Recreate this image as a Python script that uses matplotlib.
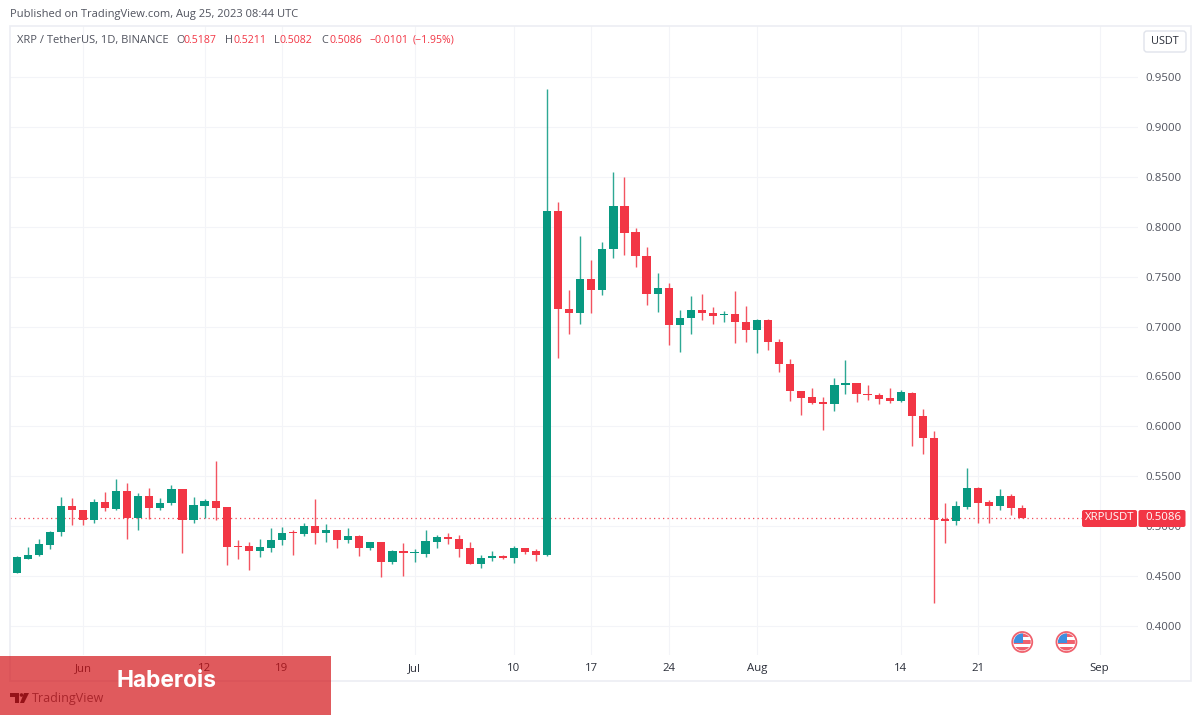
import matplotlib
matplotlib.use("Agg")
import matplotlib.pyplot as plt
import matplotlib.dates as mdates
from matplotlib.patches import Rectangle, FancyBboxPatch, Circle, Polygon
import pandas as pd
import numpy as np

dates = pd.date_range("2023-05-26", "2023-08-25", freq="D")

opens = [.4531,.4675,.4708,.4815,.4939,.5202,.5166,.5065,.5242,.5176,.5356,.5082,.5303,.5179,.5236,.5376,.5065,.5206,.5253,.5196,
         .4802,.4798,.4755,.4785,.4862,.4939,.4919,.5002,.4929,.4962,.4862,.4905,.4785,.4838,.4641,.4751,
         .4735,.4725,.4842,.4888,.4875,.4782,.4621,.4681,.4705,.4681,.4778,.4751,.4708,.8158,.7176,.7140,.7474,.7370,.7774,.8205,.7945,.7711,.7323,.7383,.7016,.7083,.7166,.7136,.7113,.7126,.7049,
         .6969,.7069,.6846,.6625,.6355,.6291,.6241,.6228,.6411,.6435,.6328,.6318,.6281,.6255,.6338,.6108,.5887,.5069,.5055,.5196,.5386,.5239,.5206,.5299,.5187]
highs = [.4698,.4788,.4868,.4955,.5289,.5279,.5166,.5269,.5339,.5473,.5436,.5329,.5383,.5279,.5413,.5376,.5289,.5276,.5657,.5196,
         .4862,.4838,.4872,.4979,.4995,.4962,.5029,.5273,.5019,.4962,.4979,.4912,.4845,.4845,.4765,.4828,
         .4768,.4962,.4912,.4935,.4912,.4838,.4711,.4748,.4711,.4798,.4782,.4768,.9377,.8252,.7367,.7908,.7667,.7844,.8546,.8496,.7991,.7801,.7534,.7440,.7166,.7307,.7330,.7193,.7160,.7360,.7203,
         .7073,.7073,.6872,.6672,.6358,.6388,.6298,.6482,.6665,.6438,.6411,.6331,.6388,.6365,.6345,.6174,.5954,.5229,.5253,.5580,.5389,.5263,.5369,.5319,.5211]
lows = [.4528,.4668,.4701,.4768,.4902,.5012,.5015,.5035,.5149,.5162,.4872,.4959,.5072,.5162,.5209,.4728,.5035,.5086,.5062,.4611,
        .4668,.4561,.4695,.4745,.4812,.4715,.4902,.4822,.4842,.4785,.4832,.4705,.4765,.4494,.4621,.4501,
        .4638,.4695,.4785,.4825,.4691,.4621,.4585,.4651,.4668,.4628,.4718,.4648,.4701,.6689,.6926,.7026,.7133,.7313,.7691,.7714,.7601,.7216,.7150,.6812,.6749,.6929,.7066,.7026,.7046,.6832,.6849,
        .6739,.6762,.6545,.6258,.6114,.6221,.5967,.6151,.6325,.6248,.6268,.6228,.6234,.6248,.5804,.5727,.4227,.4828,.5012,.5169,.5035,.5035,.5159,.5112,.5082]
closes = [.4688,.4711,.4818,.4945,.5202,.5159,.5062,.5239,.5179,.5356,.5082,.5303,.5179,.5229,.5376,.5062,.5212,.5253,.5186,.4795,
          .4792,.4755,.4788,.4865,.4932,.4929,.5002,.4929,.4962,.4862,.4905,.4785,.4838,.4641,.4748,.4728,
          .4741,.4848,.4888,.4872,.4775,.4621,.4681,.4705,.4681,.4778,.4745,.4708,.8158,.7180,.7140,.7474,.7370,.7781,.8205,.7938,.7707,.7323,.7383,.7016,.7086,.7166,.7133,.7110,.7126,.7043,.6969,
          .7069,.6846,.6622,.6355,.6288,.6238,.6228,.6411,.6432,.6325,.6315,.6275,.6258,.6348,.6104,.5880,.5065,.5055,.5202,.5386,.5236,.5206,.5299,.5179,.5086]

price_ticks = [.40,.45,.50,.55,.60,.65,.70,.75,.80,.85,.90,.95]
time_ticks = ["2023-06-01","2023-06-12","2023-06-19","2023-07-01","2023-07-10","2023-07-17","2023-07-24","2023-08-01","2023-08-14","2023-08-21","2023-09-01"]
time_labels = ["Jun","12","19","Jul","10","17","24","Aug","14","21","Sep"]
event_dates = ["2023-08-25","2023-08-29"]
last_price = 0.5086

GREEN, RED = "#089981", "#f23645"
GRID = "#f3f4f8"
FONT = "Open Sans"
plt.rcParams["font.family"] = [FONT, "DejaVu Sans"]

W, H = 1200, 715
fig = plt.figure(figsize=(W/100, H/100), dpi=100, facecolor="white")

# main pane (pixel box 10..1138 x 26..655)
L, R, T, B = 10, 1138, 26, 655
ax = fig.add_axes([L/W, 1-B/H, (R-L)/W, (B-T)/H])
d0 = mdates.date2num(pd.Timestamp("2023-06-01"))
ppd = 11.05
ax.set_xlim(d0-(83-L)/ppd, d0+(R-83)/ppd)
ax.set_ylim(0.4-(B-626)/998, 0.4+(626-T)/998)
for s in ax.spines.values():
    s.set_visible(False)
ax.set_axisbelow(True)
ax.grid(True, color=GRID, lw=0.8)
ax.yaxis.tick_right()
ax.set_yticks(price_ticks)
ax.set_yticklabels([f"{p:.4f}" for p in price_ticks], fontsize=8.2, color="#50535e")
ax.set_xticks(mdates.date2num(pd.to_datetime(time_ticks)))
ax.set_xticklabels(time_labels, fontsize=8.2, color="#2a2e39")
ax.tick_params(axis="both", length=0)
ax.tick_params(axis="y", pad=5.5)
ax.tick_params(axis="x", pad=6)

x = mdates.date2num(dates)
o, h, l, c = map(np.array, (opens, highs, lows, closes))
cols = [GREEN if ci >= oi else RED for oi, ci in zip(o, c)]
ax.vlines(x, l, h, colors=cols, lw=1.0, zorder=3, alpha=0.85)
ax.bar(x, np.abs(c-o), bottom=np.minimum(o, c), width=8.2/ppd, color=cols, lw=0, zorder=4)
ax.axhline(last_price, color=RED, lw=0.9, ls=(0, (1, 2.6)), zorder=2, alpha=0.9)

# overlay in pixel coordinates for the chrome
ov = fig.add_axes([0, 0, 1, 1], facecolor="none")
ov.set_xlim(0, W); ov.set_ylim(H, 0); ov.axis("off")

# frame
ov.add_patch(Rectangle((9.5, 25.5), 1181, 655, fc="none", ec="#eceef3", lw=1.2, zorder=1))

# header
ov.text(10, 14.5, "Published on TradingView.com, Aug 25, 2023 08:44 UTC", fontsize=8.0, color="#50535e", va="center")
ov.text(17, 40.5, "XRP / TetherUS, 1D, BINANCE", fontsize=8.0, color="#50535e", va="center")
for xp, lab, val in [(176,"O","0.5187"),(225,"H","0.5211"),(274,"L","0.5082"),(321,"C","0.5086")]:
    ov.text(xp, 40.5, lab, fontsize=7.8, color="#50535e", va="center")
    ov.text(xp+(8 if lab!="L" else 6), 40.5, val, fontsize=7.6, color=RED, va="center")
ov.text(370, 40.5, "\u22120.0101", fontsize=7.6, color=RED, va="center")
ov.text(413, 40.5, "(\u22121.95%)", fontsize=7.6, color=RED, va="center")

# currency button
ov.add_patch(FancyBboxPatch((1144, 31), 42, 21, boxstyle="round,pad=0,rounding_size=3", fc="white", ec="#e0e3eb", lw=1, zorder=5))
ov.text(1165, 41.5, "USDT", fontsize=7.8, color="#2a2e39", ha="center", va="center", zorder=6)

# last-price labels
y_last = 518
ov.add_patch(FancyBboxPatch((1082, 510), 55, 17, boxstyle="round,pad=0,rounding_size=2", fc=RED, ec="none", zorder=5))
ov.add_patch(FancyBboxPatch((1138.5, 510), 47, 17, boxstyle="round,pad=0,rounding_size=2", fc=RED, ec="none", zorder=5))
ov.text(1109.5, y_last, "XRPUSDT", fontsize=8.2, color="white", ha="center", va="center", zorder=6)
ov.text(1163, y_last, f"{last_price:.4f}", fontsize=8.2, color="white", ha="center", va="center", zorder=6)

# event flags
for ed in event_dates:
    cx = L + (mdates.date2num(pd.Timestamp(ed)) - ax.get_xlim()[0]) * ppd
    cy = 642
    clip = Circle((cx, cy), 8.5, transform=ov.transData)
    ov.add_patch(Circle((cx, cy), 10, fc="white", ec="#f0616d", lw=1.3, zorder=5))
    for i, col in enumerate(["#f0616d", "#ffffff", "#f0616d", "#ffffff", "#f0616d"]):
        r = ov.add_patch(Rectangle((cx-9, cy-9+i*3.6), 18, 3.6, fc=col, ec="none", zorder=6))
        r.set_clip_path(clip)
    r = ov.add_patch(Rectangle((cx-9, cy-9), 10, 9.5, fc="#3d8fe0", ec="none", zorder=7))
    r.set_clip_path(clip)

# TradingView logo
ov.add_patch(Polygon([(10,693),(19,693),(19,703),(15,703),(15,697),(10,697)], fc="#131722", ec="none", zorder=3))
ov.add_patch(Circle((21.5, 695), 1.8, fc="#131722", ec="none", zorder=3))
ov.add_patch(Polygon([(24,693),(29,693),(24,703),(20,703)], fc="#131722", ec="none", zorder=3))
ov.text(32, 698.5, "TradingView", fontsize=9, color="#50535e", va="center", zorder=3)

# publisher banner
ov.add_patch(Rectangle((0, 656), 331, 59, fc="#d21014", ec="none", alpha=0.69, zorder=8))
ov.text(166, 681, "Haberois", fontsize=16.4, family="Inter", weight="bold", color="white", ha="center", va="center", zorder=9)

fig.savefig("out.png", dpi=100, facecolor="white")
